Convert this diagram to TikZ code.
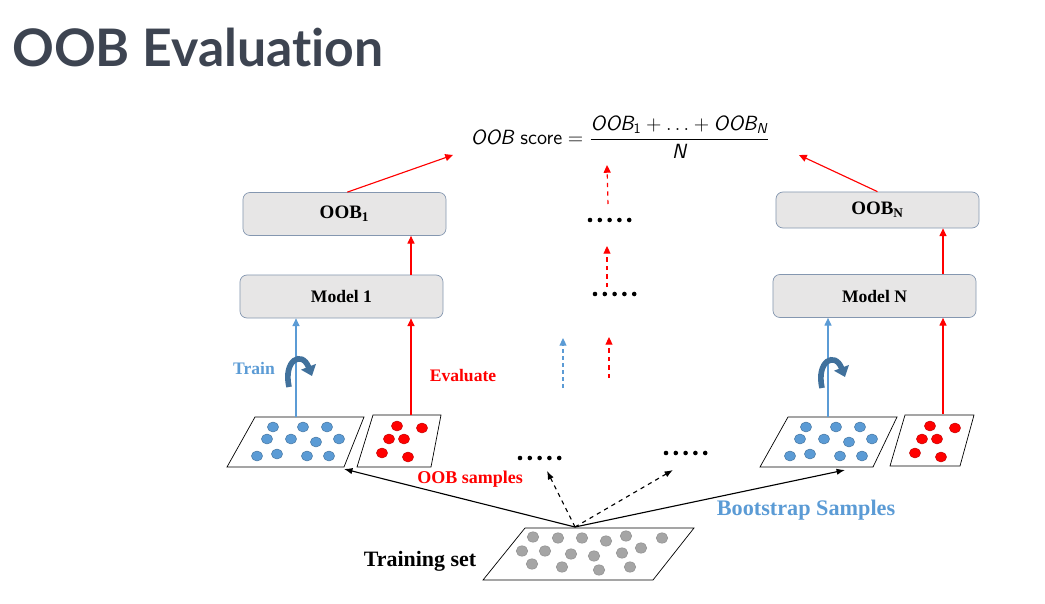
\documentclass[tikz,border=0pt]{standalone}
\usepackage{amsmath}
\usepackage{fontspec}
\setmainfont{Liberation Serif}
\newfontfamily\titlefont{Lato}[Ligatures=NoCommon]
\usetikzlibrary{arrows.meta, positioning}
\definecolor{titlegray}{HTML}{3D4451}
\definecolor{boxfill}{HTML}{E7E6E6}
\definecolor{boxline}{HTML}{8497B0}
\definecolor{bluedot}{HTML}{5B9BD5}
\definecolor{blueedge}{HTML}{41719C}
\definecolor{reddot}{HTML}{FF0000}
\definecolor{rededge}{HTML}{C00000}
\definecolor{graydot}{HTML}{A5A5A5}
\definecolor{grayedge}{HTML}{8C8C8C}

\begin{document}
\begin{tikzpicture}[
  x=0.025cm, y=-0.025cm,
  model/.style={rectangle, rounded corners=5pt, draw=boxline, fill=boxfill, line width=0.5pt,
    minimum width=5.075cm, minimum height=1.075cm, font=\fontsize{12.5}{14}\selectfont\bfseries},
  sampleset/.style={draw=black, line width=0.5pt, fill=white},
  redarrow/.style={-{Triangle[width=5pt, length=5.5pt]}, draw=reddot, line width=0.8pt},
  bluearrow/.style={-{Triangle[width=5pt, length=5.5pt]}, draw=bluedot, line width=0.8pt},
  blackarrow/.style={-{Latex[width=4.5pt, length=6pt]}, draw=black, line width=0.8pt},
  curl/.style={-{Triangle[width=11pt, length=7pt]}, draw=blueedge, line width=4pt},
  lbl/.style={font=\fontsize{12.5}{14}\selectfont\bfseries}
]
\useasboundingbox (0,0) rectangle (1045,604);

% Title
\node[anchor=base west, inner sep=0pt, text=titlegray,
  font=\titlefont\bfseries\fontsize{36.8}{42}\selectfont] (title) at (12,67) {OOB Evaluation};

% Score formula
\node[font=\sffamily\fontsize{14.6}{17}\selectfont] (score) at (620,137)
  {$\textsf{\itshape OOB}\ \textsf{score} = \dfrac{\textsf{\itshape OOB}_{\textsf{1}} + \ldots + \textsf{\itshape OOB}_{\textsf{\itshape N}}}{\textsf{\itshape N}}$};
\coordinate (scoreL) at (453,155);
\coordinate (scoreR) at (799,155);

% Model and OOB boxes
\node[model, font=\fontsize{13.5}{15}\selectfont\bfseries] (oob1) at (344.5,214) {OOB$_{\mathbf{1}}$};
\node[model] (model1) at (341.5,296.5) {Model 1};
\node[model, minimum height=0.9cm, font=\fontsize{13.5}{15}\selectfont\bfseries] (oobN) at (877.5,210) {OOB$_{\mathbf{N}}$};
\node[model] (modelN) at (874.5,296) {Model N};

% Sample sets
\draw[sampleset] (255,417) -- (364,417) -- (344,467) -- (227,467) -- cycle;
\draw[sampleset] (373,415) -- (441,415) -- (431,467) -- (357,467) -- cycle;
\draw[sampleset] (788,417) -- (897,417) -- (873,467) -- (760,467) -- cycle;
\draw[sampleset] (905,415) -- (974,415) -- (960,466) -- (890,466) -- cycle;
\draw[sampleset] (525,528) -- (694,528) -- (653,580) -- (483,580) -- cycle;

\foreach \dx in {0,533} {
  \foreach \px/\py in {273/427, 303/427, 327/427, 267/439, 291/439, 316/442, 339/439,
                       257/456, 277/454, 307/456, 329/456}
    \filldraw[fill=bluedot, draw=blueedge, line width=0.3pt] (\px+\dx,\py) ellipse (5.6 and 5);
  \foreach \px/\py in {397/426, 422/428, 389/439, 404/439, 382/453, 408/457}
    \filldraw[fill=reddot, draw=rededge, line width=0.3pt] (\px+\dx,\py) ellipse (5.6 and 5);
}
\foreach \px/\py in {533/537, 558/538, 582/538, 606/541, 626/536, 662/538,
                     522/551, 545/551, 571/554, 594/556, 622/553, 641/548,
                     532/564, 562/567, 599/570, 630/567}
  \filldraw[fill=graydot, draw=grayedge, line width=0.3pt] (\px,\py) ellipse (5.8 and 5.2);

% Dots
\foreach \cx/\cy in {590/220, 595/294, 520/458, 666/453}
  \foreach \i in {0,...,4}
    \fill (\cx+\i*9.8,\cy) circle (2.3);

% Coordinates
\coordinate (blue1) at (296,417);
\coordinate (red1) at (411,415);
\coordinate (blueN) at (828,417);
\coordinate (redN) at (943,414);
\coordinate (apex) at (575,527);
\coordinate (set1) at (344,469);
\coordinate (mid1) at (547,471);
\coordinate (mid2) at (673,470);
\coordinate (setN) at (845,470);

% Labels
\node[lbl, text=bluedot] (train) at (254,368) {Train};
\node[lbl, text=reddot] (evaluate) at (463,376) {Evaluate};
\node[lbl, text=reddot, font=\fontsize{12.8}{14}\selectfont\bfseries] (oobsamples) at (470,479) {OOB samples};
\node[text=bluedot, font=\fontsize{15.8}{18}\selectfont\bfseries] (bootstrap) at (806,510) {Bootstrap Samples};
\node[font=\fontsize{15.6}{18}\selectfont\bfseries] (trainset) at (420,561) {Training set};

% Arrows
\draw[bluearrow] (blue1) -- (blue1 |- model1.south);
\draw[redarrow] (red1) -- (red1 |- model1.south);
\draw[redarrow] (model1.north -| red1) -- (oob1.south -| red1);
\draw[redarrow] ([xshift=0.07cm]oob1.north) -- (scoreL);
\draw[bluearrow] (blueN) -- (blueN |- modelN.south);
\draw[redarrow] (redN) -- (redN |- modelN.south);
\draw[redarrow] (modelN.north -| redN) -- (oobN.south -| redN);
\draw[redarrow] (oobN.north) -- (scoreR);

\draw[curl] (289,387) .. controls (283,360) and (302,350) .. (312,376);
\draw[curl] (822,388) .. controls (816,361) and (835,351) .. (845,377);

% Middle column
\draw[redarrow, dashed] (608,204) -- (607,165);
\draw[redarrow, dashed] (607,287) -- (607,246);
\draw[redarrow, dashed] (609,378) -- (609,337);
\draw[bluearrow, densely dashed] (563,388) -- (563,338);

\draw[blackarrow] (apex) -- (set1);
\draw[blackarrow, dashed] (apex) -- (mid1);
\draw[blackarrow, dashed] (apex) -- (mid2);
\draw[blackarrow] (apex) -- (setN);
\end{tikzpicture}
\end{document}
